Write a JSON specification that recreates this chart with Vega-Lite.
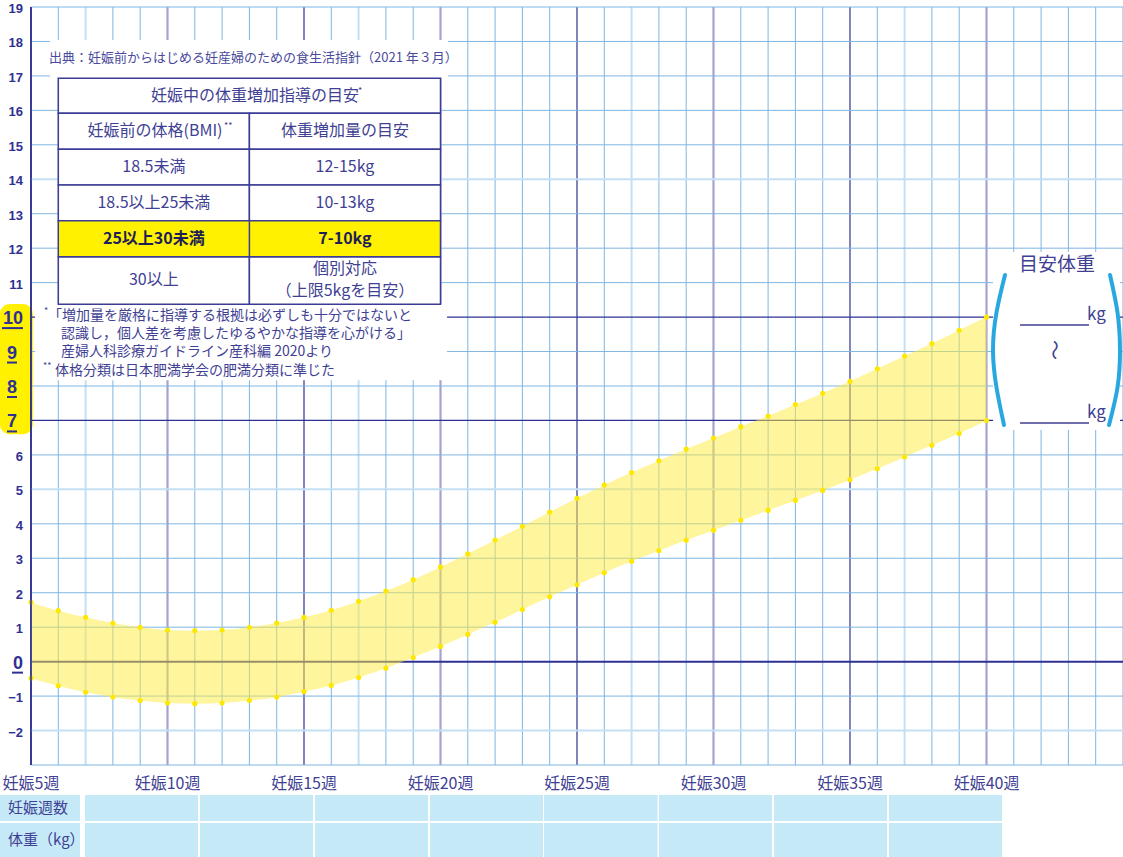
{
  "$schema": "https://vega.github.io/schema/vega-lite/v6.json",
  "width": 1092,
  "height": 758,
  "autosize": {"type": "none"},
  "padding": {"left": 31, "top": 7, "right": 0, "bottom": 92},
  "background": "white",
  "config": {"view": {"stroke": null}},
  "datasets": {
    "band": [
      {"week": 5, "upper": 1.72, "lower": -0.48},
      {"week": 6, "upper": 1.48, "lower": -0.70},
      {"week": 7, "upper": 1.29, "lower": -0.89},
      {"week": 8, "upper": 1.12, "lower": -1.03},
      {"week": 9, "upper": 1.00, "lower": -1.13},
      {"week": 10, "upper": 0.92, "lower": -1.20},
      {"week": 11, "upper": 0.90, "lower": -1.22},
      {"week": 12, "upper": 0.92, "lower": -1.20},
      {"week": 13, "upper": 1.00, "lower": -1.13},
      {"week": 14, "upper": 1.12, "lower": -1.03},
      {"week": 15, "upper": 1.29, "lower": -0.87},
      {"week": 16, "upper": 1.49, "lower": -0.69},
      {"week": 17, "upper": 1.75, "lower": -0.46},
      {"week": 18, "upper": 2.05, "lower": -0.19},
      {"week": 19, "upper": 2.38, "lower": 0.12},
      {"week": 20, "upper": 2.75, "lower": 0.44},
      {"week": 21, "upper": 3.13, "lower": 0.79},
      {"week": 22, "upper": 3.53, "lower": 1.14},
      {"week": 23, "upper": 3.93, "lower": 1.51},
      {"week": 24, "upper": 4.34, "lower": 1.88},
      {"week": 25, "upper": 4.74, "lower": 2.23},
      {"week": 26, "upper": 5.13, "lower": 2.58},
      {"week": 27, "upper": 5.49, "lower": 2.91},
      {"week": 28, "upper": 5.83, "lower": 3.22},
      {"week": 29, "upper": 6.17, "lower": 3.52},
      {"week": 30, "upper": 6.49, "lower": 3.81},
      {"week": 31, "upper": 6.82, "lower": 4.10},
      {"week": 32, "upper": 7.13, "lower": 4.39},
      {"week": 33, "upper": 7.46, "lower": 4.68},
      {"week": 34, "upper": 7.79, "lower": 4.97},
      {"week": 35, "upper": 8.14, "lower": 5.28},
      {"week": 36, "upper": 8.50, "lower": 5.60},
      {"week": 37, "upper": 8.87, "lower": 5.94},
      {"week": 38, "upper": 9.23, "lower": 6.28},
      {"week": 39, "upper": 9.62, "lower": 6.62},
      {"week": 40, "upper": 10.00, "lower": 7.00}
    ],
    "weeks": [
      {"w": 5}, {"w": 6}, {"w": 7}, {"w": 8}, {"w": 9}, {"w": 10}, {"w": 11}, {"w": 12}, {"w": 13}, {"w": 14},
      {"w": 15}, {"w": 16}, {"w": 17}, {"w": 18}, {"w": 19}, {"w": 20}, {"w": 21}, {"w": 22}, {"w": 23}, {"w": 24},
      {"w": 25}, {"w": 26}, {"w": 27}, {"w": 28}, {"w": 29}, {"w": 30}, {"w": 31}, {"w": 32}, {"w": 33}, {"w": 34},
      {"w": 35}, {"w": 36}, {"w": 37}, {"w": 38}, {"w": 39}, {"w": 40}, {"w": 41}, {"w": 42}, {"w": 43}, {"w": 44}, {"w": 45}
    ],
    "kgs": [
      {"k": -3}, {"k": -2}, {"k": -1}, {"k": 0}, {"k": 1}, {"k": 2}, {"k": 3}, {"k": 4}, {"k": 5}, {"k": 6}, {"k": 7},
      {"k": 8}, {"k": 9}, {"k": 10}, {"k": 11}, {"k": 12}, {"k": 13}, {"k": 14}, {"k": 15}, {"k": 16}, {"k": 17}, {"k": 18}, {"k": 19}
    ],
    "xlabs": [
      {"w": 5, "t": "妊娠5週"}, {"w": 10, "t": "妊娠10週"}, {"w": 15, "t": "妊娠15週"}, {"w": 20, "t": "妊娠20週"},
      {"w": 25, "t": "妊娠25週"}, {"w": 30, "t": "妊娠30週"}, {"w": 35, "t": "妊娠35週"}, {"w": 40, "t": "妊娠40週"}
    ],
    "boxes": [
      {"x": 5.696, "x2": 20.275, "y": 16.939, "y2": 18.042},
      {"x": 5.147, "x2": 20.24, "y": 8.17, "y2": 10.379},
      {"x": 40.24, "x2": 44.89, "y": 6.722, "y2": 11.888}
    ],
    "cells": [
      {"x": 6, "x2": 20, "y": 15.915, "y2": 16.931},
      {"x": 6, "x2": 13, "y": 14.870, "y2": 15.915},
      {"x": 13, "x2": 20, "y": 14.870, "y2": 15.915},
      {"x": 6, "x2": 13, "y": 13.834, "y2": 14.870},
      {"x": 13, "x2": 20, "y": 13.834, "y2": 14.870},
      {"x": 6, "x2": 13, "y": 12.798, "y2": 13.834},
      {"x": 13, "x2": 20, "y": 12.798, "y2": 13.834},
      {"x": 6, "x2": 13, "y": 10.371, "y2": 11.753},
      {"x": 13, "x2": 20, "y": 10.371, "y2": 11.753}
    ],
    "tableText": [
      {"x": 13.205, "y": 16.417, "t": "妊娠中の体重増加指導の目安"},
      {"x": 9.542, "y": 15.401, "t": "妊娠前の体格(BMI)"},
      {"x": 16.5, "y": 15.401, "t": "体重増加量の目安"},
      {"x": 9.5, "y": 14.356, "t": "18.5未満"},
      {"x": 16.5, "y": 14.356, "t": "12-15kg"},
      {"x": 9.5, "y": 13.311, "t": "18.5以上25未満"},
      {"x": 16.5, "y": 13.311, "t": "10-13kg"},
      {"x": 9.5, "y": 11.077, "t": "30以上"},
      {"x": 16.5, "y": 11.396, "t": "個別対応"},
      {"x": 16.5, "y": 10.757, "t": "（上限5kgを目安）"}
    ],
    "tableBold": [
      {"x": 9.5, "y": 12.266, "t": "25以上30未満"},
      {"x": 16.5, "y": 12.266, "t": "7-10kg"}
    ],
    "supers": [
      {"x": 16.98, "y": 16.562, "t": "*"},
      {"x": 12.07, "y": 15.546, "t": "**"},
      {"x": 5.476, "y": 10.177, "t": "*"},
      {"x": 5.44, "y": 8.58, "t": "**"}
    ],
    "notes": [
      {"x": 5.623, "y": 10.032, "t": "「増加量を厳格に指導する根拠は必ずしも十分ではないと"},
      {"x": 6.099, "y": 9.509, "t": "認識し，個人差を考慮したゆるやかな指導を心がける」"},
      {"x": 6.099, "y": 8.987, "t": "産婦人科診療ガイドライン産科編 2020より"},
      {"x": 5.879, "y": 8.435, "t": "体格分類は日本肥満学会の肥満分類に準じた"}
    ],
    "source": [
      {"x": 5.659, "y": 17.52, "t": "出典：妊娠前からはじめる妊産婦のための食生活指針（2021 年３月）"}
    ],
    "kgText": [
      {"x": 43.681, "y": 10.05, "t": "kg"},
      {"x": 43.681, "y": 7.22, "t": "kg"}
    ],
    "kgLines": [
      {"x": 41.227, "x2": 43.755, "y": 9.77},
      {"x": 41.227, "x2": 43.755, "y": 6.926}
    ],
    "parens": [
      {"side": "L", "i": 0, "x": 40.678, "y": 11.221},
      {"side": "L", "i": 1, "x": 40.366, "y": 10.133},
      {"side": "L", "i": 2, "x": 40.238, "y": 9.045},
      {"side": "L", "i": 3, "x": 40.366, "y": 7.956},
      {"side": "L", "i": 4, "x": 40.641, "y": 6.868},
      {"side": "R", "i": 0, "x": 44.524, "y": 11.221},
      {"side": "R", "i": 1, "x": 44.799, "y": 10.133},
      {"side": "R", "i": 2, "x": 44.89, "y": 9.045},
      {"side": "R", "i": 3, "x": 44.799, "y": 7.956},
      {"side": "R", "i": 4, "x": 44.487, "y": 6.868}
    ],
    "ylabRight": [
      {"v": 19}, {"v": 18}, {"v": 17}, {"v": 16}, {"v": 15}, {"v": 14}, {"v": 13}, {"v": 12}, {"v": 11}, {"v": 10},
      {"v": 6}, {"v": 5}, {"v": 4}, {"v": 3}, {"v": 2}, {"v": 1}, {"v": 0}, {"v": -1}, {"v": -2}
    ],
    "ylabCenter": [{"v": 9}, {"v": 8}, {"v": 7}],
    "bcols": [
      {"x": 3.864, "x2": 6.795},
      {"x": 6.978, "x2": 11.117},
      {"x": 11.19, "x2": 15.33},
      {"x": 15.403, "x2": 19.542},
      {"x": 19.615, "x2": 23.755},
      {"x": 23.791, "x2": 27.949},
      {"x": 28.004, "x2": 32.143},
      {"x": 32.216, "x2": 36.355},
      {"x": 36.429, "x2": 40.568}
    ],
    "blabels": [
      {"x": 4.158, "y": -4.248, "t": "妊娠週数"},
      {"x": 4.158, "y": -5.18, "t": "体重（kg）"}
    ]
  },
  "layer": [
    {
      "data": {"values": [{}]},
      "mark": {"type": "rect", "fill": "#fff100", "cornerRadius": 10},
      "encoding": {
        "x": {"datum": 3.864, "type": "quantitative", "scale": {"domain": [5, 45], "nice": false, "zero": false}, "axis": null},
        "x2": {"datum": 5.07},
        "y": {"datum": 6.6, "type": "quantitative", "scale": {"domain": [-3, 19], "nice": false, "zero": false}, "axis": null},
        "y2": {"datum": 10.38}
      }
    },
    {
      "data": {"name": "weeks"},
      "mark": {"type": "rule"},
      "encoding": {
        "x": {"field": "w", "type": "quantitative", "axis": null},
        "y": {"datum": -3, "type": "quantitative", "axis": null},
        "y2": {"datum": 19},
        "color": {
          "condition": [
            {"test": "datum.w == 5 || datum.w == 15 || datum.w == 25 || datum.w == 35", "value": "#2e3192"},
            {"test": "datum.w % 10 == 0 && datum.w <= 40", "value": "#a3a3cf"},
            {"test": "datum.w % 10 == 7", "value": "#c4dff3"}
          ],
          "value": "#7fb6e2"
        },
        "strokeWidth": {
          "condition": [
            {"test": "datum.w == 5", "value": 1.5},
            {"test": "datum.w == 15 || datum.w == 25 || datum.w == 35", "value": 1.2},
            {"test": "datum.w % 10 == 0 && datum.w <= 40", "value": 2.2},
            {"test": "datum.w % 10 == 7", "value": 2}
          ],
          "value": 1
        }
      }
    },
    {
      "data": {"name": "kgs"},
      "mark": {"type": "rule"},
      "encoding": {
        "y": {"field": "k", "type": "quantitative", "axis": null},
        "x": {"datum": 5, "type": "quantitative", "axis": null},
        "x2": {"datum": 45},
        "color": {
          "condition": [
            {"test": "datum.k == 0 || datum.k == 7 || datum.k == 10", "value": "#2e3192"},
            {"test": "datum.k == -2 || datum.k == 5 || datum.k == 14", "value": "#c4dff3"}
          ],
          "value": "#7fb6e2"
        },
        "strokeWidth": {
          "condition": [
            {"test": "datum.k == 0", "value": 2},
            {"test": "datum.k == 7 || datum.k == 10", "value": 1.3},
            {"test": "datum.k == -2 || datum.k == 5 || datum.k == 14", "value": 2}
          ],
          "value": 1
        }
      }
    },
    {
      "data": {"name": "band"},
      "mark": {"type": "area", "fill": "#ffeb3b", "opacity": 0.5, "interpolate": "monotone"},
      "encoding": {
        "x": {"field": "week", "type": "quantitative", "axis": null},
        "y": {"field": "lower", "type": "quantitative", "axis": null},
        "y2": {"field": "upper"}
      }
    },
    {
      "data": {"name": "band"},
      "mark": {"type": "circle", "color": "#ffe800", "size": 26, "opacity": 1},
      "encoding": {
        "x": {"field": "week", "type": "quantitative", "axis": null},
        "y": {"field": "upper", "type": "quantitative", "axis": null}
      }
    },
    {
      "data": {"name": "band"},
      "mark": {"type": "circle", "color": "#ffe800", "size": 26, "opacity": 1},
      "encoding": {
        "x": {"field": "week", "type": "quantitative", "axis": null},
        "y": {"field": "lower", "type": "quantitative", "axis": null}
      }
    },
    {
      "data": {"name": "boxes"},
      "mark": {"type": "rect", "fill": "white"},
      "encoding": {
        "x": {"field": "x", "type": "quantitative", "axis": null},
        "x2": {"field": "x2"},
        "y": {"field": "y", "type": "quantitative", "axis": null},
        "y2": {"field": "y2"}
      }
    },
    {
      "data": {"name": "cells"},
      "mark": {"type": "rect", "fill": "white", "stroke": "#3c3c96", "strokeWidth": 1.5},
      "encoding": {
        "x": {"field": "x", "type": "quantitative", "axis": null},
        "x2": {"field": "x2"},
        "y": {"field": "y", "type": "quantitative", "axis": null},
        "y2": {"field": "y2"}
      }
    },
    {
      "data": {"values": [{}]},
      "mark": {"type": "rect", "fill": "#fff100", "stroke": "#3c3c96", "strokeWidth": 1.5},
      "encoding": {
        "x": {"datum": 6, "type": "quantitative", "axis": null},
        "x2": {"datum": 20},
        "y": {"datum": 11.753, "type": "quantitative", "axis": null},
        "y2": {"datum": 12.798}
      }
    },
    {
      "data": {"values": [{}]},
      "mark": {"type": "rule", "color": "#3c3c96", "strokeWidth": 1.5},
      "encoding": {
        "x": {"datum": 13, "type": "quantitative", "axis": null},
        "y": {"datum": 11.753, "type": "quantitative", "axis": null},
        "y2": {"datum": 12.798}
      }
    },
    {
      "data": {"name": "tableText"},
      "mark": {"type": "text", "font": "Noto Sans CJK JP", "fontSize": 16, "align": "center", "baseline": "middle", "color": "#3f3f94"},
      "encoding": {
        "x": {"field": "x", "type": "quantitative", "axis": null},
        "y": {"field": "y", "type": "quantitative", "axis": null},
        "text": {"field": "t"}
      }
    },
    {
      "data": {"name": "tableBold"},
      "mark": {"type": "text", "font": "Noto Sans CJK JP", "fontSize": 16, "fontWeight": "bold", "align": "center", "baseline": "middle", "color": "#1f1f55"},
      "encoding": {
        "x": {"field": "x", "type": "quantitative", "axis": null},
        "y": {"field": "y", "type": "quantitative", "axis": null},
        "text": {"field": "t"}
      }
    },
    {
      "data": {"name": "supers"},
      "mark": {"type": "text", "font": "Noto Sans CJK JP", "fontSize": 9, "align": "left", "baseline": "middle", "color": "#3f3f94"},
      "encoding": {
        "x": {"field": "x", "type": "quantitative", "axis": null},
        "y": {"field": "y", "type": "quantitative", "axis": null},
        "text": {"field": "t"}
      }
    },
    {
      "data": {"name": "notes"},
      "mark": {"type": "text", "font": "Noto Sans CJK JP", "fontSize": 14, "align": "left", "baseline": "middle", "color": "#3f3f94"},
      "encoding": {
        "x": {"field": "x", "type": "quantitative", "axis": null},
        "y": {"field": "y", "type": "quantitative", "axis": null},
        "text": {"field": "t"}
      }
    },
    {
      "data": {"name": "source"},
      "mark": {"type": "text", "font": "Noto Sans CJK JP", "fontSize": 13, "align": "left", "baseline": "middle", "color": "#4a4a9c"},
      "encoding": {
        "x": {"field": "x", "type": "quantitative", "axis": null},
        "y": {"field": "y", "type": "quantitative", "axis": null},
        "text": {"field": "t"}
      }
    },
    {
      "data": {"values": [{"t": "目安体重"}]},
      "mark": {"type": "text", "font": "Noto Sans CJK JP", "fontSize": 19, "align": "center", "baseline": "middle", "color": "#3f3f94"},
      "encoding": {
        "x": {"datum": 42.582, "type": "quantitative", "axis": null},
        "y": {"datum": 11.512, "type": "quantitative", "axis": null},
        "text": {"field": "t"}
      }
    },
    {
      "data": {"values": [{"t": "〜"}]},
      "mark": {"type": "text", "font": "Noto Sans CJK JP", "fontSize": 20, "angle": 90, "align": "center", "baseline": "middle", "color": "#3f3f94"},
      "encoding": {
        "x": {"datum": 42.436, "type": "quantitative", "axis": null},
        "y": {"datum": 9.045, "type": "quantitative", "axis": null},
        "text": {"field": "t"}
      }
    },
    {
      "data": {"name": "kgText"},
      "mark": {"type": "text", "font": "Noto Sans CJK JP", "fontSize": 17, "align": "left", "baseline": "middle", "color": "#3f3f94"},
      "encoding": {
        "x": {"field": "x", "type": "quantitative", "axis": null},
        "y": {"field": "y", "type": "quantitative", "axis": null},
        "text": {"field": "t"}
      }
    },
    {
      "data": {"name": "kgLines"},
      "mark": {"type": "rule", "color": "#3f3f94", "strokeWidth": 1.3},
      "encoding": {
        "x": {"field": "x", "type": "quantitative", "axis": null},
        "x2": {"field": "x2"},
        "y": {"field": "y", "type": "quantitative", "axis": null}
      }
    },
    {
      "data": {"name": "parens"},
      "mark": {"type": "line", "stroke": "#29a8e0", "strokeWidth": 4, "interpolate": "natural", "strokeCap": "round"},
      "encoding": {
        "x": {"field": "x", "type": "quantitative", "axis": null},
        "y": {"field": "y", "type": "quantitative", "axis": null},
        "detail": {"field": "side"},
        "order": {"field": "i", "type": "quantitative"}
      }
    },
    {
      "data": {"values": [{}]},
      "mark": {"type": "rule", "color": "#2e3192", "strokeWidth": 1.6},
      "encoding": {
        "x": {"datum": 5, "type": "quantitative", "axis": null},
        "y": {"datum": -3, "type": "quantitative", "axis": null},
        "y2": {"datum": 19}
      }
    },
    {
      "data": {"name": "ylabRight"},
      "mark": {"type": "text", "font": "Liberation Sans", "fontWeight": "bold", "align": "right", "baseline": "middle", "dy": 2, "color": "#2e3192"},
      "encoding": {
        "x": {"datum": 4.707, "type": "quantitative", "axis": null},
        "y": {"field": "v", "type": "quantitative", "axis": null},
        "text": {"field": "v", "type": "quantitative"},
        "size": {"condition": {"test": "datum.v == 10 || datum.v == 0", "value": 18}, "value": 13}
      }
    },
    {
      "data": {"name": "ylabCenter"},
      "mark": {"type": "text", "font": "Liberation Sans", "fontWeight": "bold", "fontSize": 18, "align": "center", "baseline": "middle", "dy": 2, "color": "#2e3192"},
      "encoding": {
        "x": {"datum": 4.304, "type": "quantitative", "axis": null},
        "y": {"field": "v", "type": "quantitative", "axis": null},
        "text": {"field": "v", "type": "quantitative"}
      }
    },
    {
      "data": {"values": [{"v": 10}]},
      "mark": {"type": "rule", "color": "#2e3192", "strokeWidth": 2, "yOffset": 11},
      "encoding": {
        "x": {"datum": 3.938, "type": "quantitative", "axis": null},
        "x2": {"datum": 4.707},
        "y": {"field": "v", "type": "quantitative", "axis": null}
      }
    },
    {
      "data": {"values": [{"v": 0}]},
      "mark": {"type": "rule", "color": "#2e3192", "strokeWidth": 2, "yOffset": 11},
      "encoding": {
        "x": {"datum": 4.304, "type": "quantitative", "axis": null},
        "x2": {"datum": 4.707},
        "y": {"field": "v", "type": "quantitative", "axis": null}
      }
    },
    {
      "data": {"name": "ylabCenter"},
      "mark": {"type": "rule", "color": "#2e3192", "strokeWidth": 2, "yOffset": 11},
      "encoding": {
        "x": {"datum": 4.121, "type": "quantitative", "axis": null},
        "x2": {"datum": 4.487},
        "y": {"field": "v", "type": "quantitative", "axis": null}
      }
    },
    {
      "data": {"name": "xlabs"},
      "mark": {"type": "text", "font": "Noto Sans CJK JP", "fontSize": 16, "align": "center", "baseline": "middle", "dy": 19, "color": "#3f3f94"},
      "encoding": {
        "x": {"field": "w", "type": "quantitative", "axis": null},
        "y": {"datum": -3, "type": "quantitative", "axis": null},
        "text": {"field": "t"}
      }
    },
    {
      "data": {"name": "bcols"},
      "mark": {"type": "rect", "fill": "#c6e9f8"},
      "encoding": {
        "x": {"field": "x", "type": "quantitative", "axis": null},
        "x2": {"field": "x2"},
        "y": {"datum": -3.871, "type": "quantitative", "axis": null},
        "y2": {"datum": -4.625}
      }
    },
    {
      "data": {"name": "bcols"},
      "mark": {"type": "rect", "fill": "#c6e9f8"},
      "encoding": {
        "x": {"field": "x", "type": "quantitative", "axis": null},
        "x2": {"field": "x2"},
        "y": {"datum": -4.683, "type": "quantitative", "axis": null},
        "y2": {"datum": -5.75}
      }
    },
    {
      "data": {"name": "blabels"},
      "mark": {"type": "text", "font": "Noto Sans CJK JP", "fontSize": 15, "align": "left", "baseline": "middle", "color": "#3f3f94"},
      "encoding": {
        "x": {"field": "x", "type": "quantitative", "axis": null},
        "y": {"field": "y", "type": "quantitative", "axis": null},
        "text": {"field": "t"}
      }
    }
  ]
}
